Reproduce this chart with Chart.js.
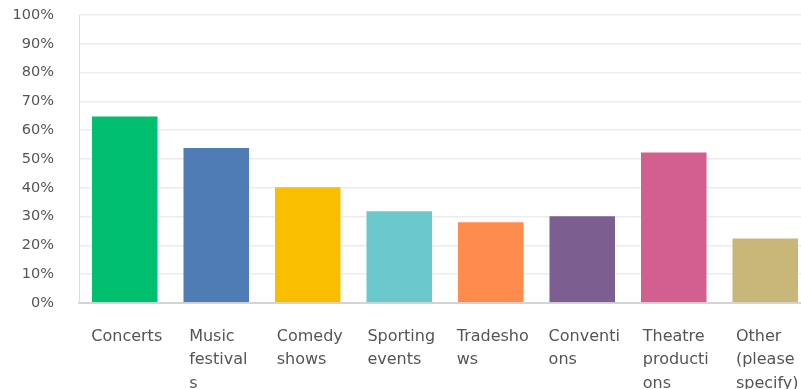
<!DOCTYPE html>
<html>
<head>
<meta charset="utf-8">
<script src="https://cdn.jsdelivr.net/npm/chart.js@4/dist/chart.umd.min.js"></script>
<style>
  html, body { margin: 0; padding: 0; background: #fff; overflow: hidden; }
  #wrap { width: 812px; height: 389px; position: relative; }
</style>
</head>
<body>
<div id="wrap"><canvas id="eventsChart"></canvas></div>
<script>
// Answer choices, wrapped the same way the survey tool wraps them
const categories = [
  ['Concerts'],
  ['Music', 'festival', 's'],
  ['Comedy', 'shows'],
  ['Sporting', 'events'],
  ['Tradesho', 'ws'],
  ['Conventi', 'ons'],
  ['Theatre', 'producti', 'ons'],
  ['Other', '(please', 'specify)']
];
// Share of respondents (%)
const responseShare = [65.1, 54.2, 40.5, 32.2, 28.4, 30.5, 52.6, 22.7];
const barColors = ['#00BF6F', '#507CB6', '#F9BE00', '#6BC8CD', '#FF8B4F', '#7D5E90', '#D25F90', '#C9B77A'];
const yTickValues = [0, 10, 20, 30, 40, 50, 60, 70, 80, 90, 100];

// x labels: each block centred under its bar, lines left-aligned inside the block
const leftAlignedLabels = {
  id: 'leftAlignedLabels',
  afterDraw(chart) {
    const ctx = chart.ctx;
    const xScale = chart.scales.x;
    const base = chart.chartArea.bottom + 37.5;
    ctx.save();
    ctx.font = '16px "DejaVu Sans"';
    ctx.fillStyle = '#555555';
    ctx.textAlign = 'left';
    ctx.textBaseline = 'alphabetic';
    categories.forEach((lines, i) => {
      const cx = xScale.getPixelForValue(i);
      const w = Math.max(...lines.map(l => ctx.measureText(l).width));
      const left = cx - w / 2 + 2;
      lines.forEach((line, j) => {
        ctx.fillText(line, left, base + j * 23.5);
      });
    });
    ctx.restore();
  }
};

const ctx = document.getElementById('eventsChart').getContext('2d');
new Chart(ctx, {
  type: 'bar',
  data: {
    labels: categories.map(l => l.join(' ')),
    datasets: [{
      data: responseShare,
      backgroundColor: barColors,
      borderColor: 'rgba(255,255,255,0.35)',
      borderWidth: 1,
      barPercentage: 0.738,
      categoryPercentage: 1
    }]
  },
  options: {
    responsive: true,
    maintainAspectRatio: false,
    animation: false,
    layout: { padding: { top: 15, right: 1, bottom: 86, left: 0 } },
    plugins: {
      legend: { display: false },
      tooltip: { enabled: false }
    },
    scales: {
      x: {
        ticks: { display: false },
        grid: { display: false, drawTicks: false },
        border: { display: true, color: '#d4d4d4', width: 2 }
      },
      y: {
        min: 0,
        max: 100,
        afterFit(scale) {
          scale.width = 79;
          // tick padding only spaces labels from the axis, not from the top edge
          scale.paddingTop = 9;
          scale.paddingBottom = 9;
        },
        afterBuildTicks(scale) { scale.ticks = yTickValues.map(v => ({ value: v })); },
        ticks: {
          padding: 25,
          color: '#555555',
          font: { family: 'DejaVu Sans', size: 14.5 },
          callback: v => v + '%'
        },
        grid: { color: '#ececec', lineWidth: 1.5, drawTicks: false },
        border: { display: true, color: '#dcdcdc', width: 1 }
      }
    }
  },
  plugins: [leftAlignedLabels]
});
</script>
</body>
</html>
